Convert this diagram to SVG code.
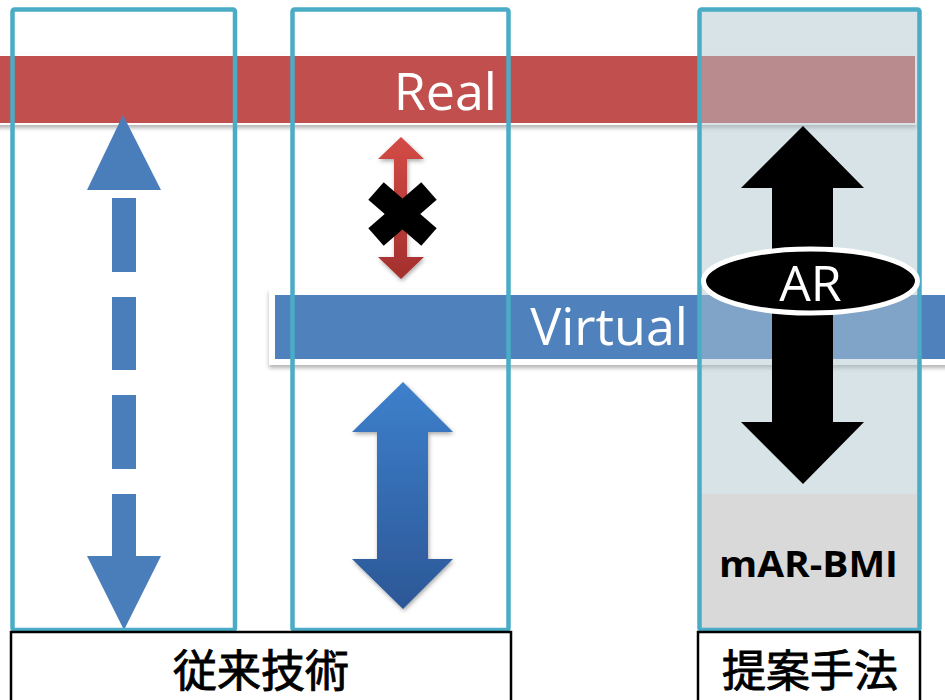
<svg xmlns="http://www.w3.org/2000/svg" width="945" height="700" viewBox="0 0 945 700">
  <defs>
    <style>
      .band-text { font-family: "Open Sans", "Liberation Sans", sans-serif; fill: #ffffff; font-size: 52px; }
      .frame { fill: none; stroke: #4bacc6; stroke-width: 4.5; }
      .label-box { fill: #ffffff; stroke: #000000; stroke-width: 2.5; }
      .label-text { font-family: "Noto Sans CJK JP", "Noto Sans CJK SC", sans-serif; font-size: 44px; font-weight: normal; fill: #000000; stroke: #000000; stroke-width: 0.9; text-anchor: middle; }
      .dash-arrow { fill: #4a7ebb; }
    </style>
    <filter id="bandShadow" x="-5%" y="-30%" width="110%" height="170%">
      <feDropShadow dx="0" dy="3" stdDeviation="2" flood-color="#000000" flood-opacity="0.3"/>
    </filter>
    <filter id="arrowShadow" x="-30%" y="-10%" width="160%" height="130%">
      <feDropShadow dx="1" dy="2" stdDeviation="2" flood-color="#000000" flood-opacity="0.35"/>
    </filter>
    <linearGradient id="redGrad" x1="0" y1="0" x2="0" y2="1">
      <stop offset="0" stop-color="#d34b46"/>
      <stop offset="1" stop-color="#a3302d"/>
    </linearGradient>
    <linearGradient id="blueGrad" x1="0" y1="0" x2="0" y2="1">
      <stop offset="0" stop-color="#3d80cc"/>
      <stop offset="1" stop-color="#2c5796"/>
    </linearGradient>
  </defs>

  <rect x="0" y="0" width="945" height="700" fill="#ffffff"/>

  <!-- Real layer band -->
  <g id="real-band">
    <rect x="-10" y="55" width="926" height="69" fill="#c0504d" stroke="#ffffff" stroke-width="2" filter="url(#bandShadow)"/>
  </g>

  <!-- Virtual layer band -->
  <g id="virtual-band">
    <rect x="272" y="292" width="690" height="70" fill="#4f81bd" stroke="#ffffff" stroke-width="6" filter="url(#bandShadow)"/>
  </g>

  <!-- Proposed-method column tint -->
  <g id="proposed-column">
    <rect x="700" y="10" width="220" height="620" fill="#b1c7d1" fill-opacity="0.5"/>
    <rect x="701" y="494" width="216" height="136" fill="#d9d9d9"/>
  </g>

  <!-- arrows -->
  <g id="connectors">
    <!-- dashed two-way link (conventional, left) -->
    <g id="dashed-arrow" class="dash-arrow">
      <polygon points="123,115 161,190 87,190"/>
      <rect x="112" y="198" width="24" height="74"/>
      <rect x="112" y="297" width="24" height="73"/>
      <rect x="112" y="395" width="24" height="74"/>
      <path d="M112,494 H136 V556 H161 L124,630 L87,556 H112 Z"/>
    </g>
    <!-- blocked link between real and virtual -->
    <path id="red-arrow" d="M401,137 L424,159 H407 V257 H424 L401,279 L378,257 H394 V159 H378 Z" fill="url(#redGrad)" filter="url(#arrowShadow)"/>
    <!-- virtual-side link -->
    <path id="blue-arrow" d="M403,382 L453,432 H428 V559 H453 L403,609 L352,559 H377 V432 H352 Z" fill="url(#blueGrad)" filter="url(#arrowShadow)"/>
    <!-- AR link (proposed) -->
    <path id="black-arrow" d="M803,126 L864,188 H833 V422 H864 L803,484 L741,422 H772 V188 H741 Z" fill="#000000"/>
  </g>

  <!-- cross mark -->
  <g id="cross-mark" stroke="#000000" stroke-width="23.5">
    <line x1="376" y1="191" x2="429" y2="237"/>
    <line x1="429" y1="191" x2="376" y2="237"/>
  </g>

  <!-- column frames -->
  <g id="frame-conventional-1">
    <rect class="frame" x="12.5" y="9.5" width="222.5" height="620.5" rx="2"/>
  </g>
  <g id="frame-conventional-2">
    <rect class="frame" x="292.5" y="9.5" width="216" height="620.5" rx="2"/>
  </g>
  <g id="frame-proposed">
    <rect class="frame" x="699.5" y="9.5" width="220" height="620.5" rx="2"/>
  </g>

  <!-- AR badge -->
  <g id="ar-badge">
    <ellipse cx="810.5" cy="281" rx="107" ry="32" fill="#000000" stroke="#ffffff" stroke-width="5"/>
    <text x="810.5" y="301" class="band-text" text-anchor="middle" style="font-size:50px">AR</text>
  </g>

  <!-- band labels -->
  <g id="real-label">
    <text x="497" y="110" class="band-text" text-anchor="end">Real</text>
  </g>
  <g id="virtual-label">
    <text x="688" y="345" class="band-text" text-anchor="end">Virtual</text>
  </g>

  <!-- system name -->
  <g id="mar-bmi">
    <text x="808.5" y="577" font-family="Open Sans, Liberation Sans, sans-serif" font-weight="bold" font-size="36" text-anchor="middle" fill="#000000" textLength="179" lengthAdjust="spacingAndGlyphs">mAR-BMI</text>
  </g>

  <!-- column captions -->
  <g id="caption-conventional">
    <rect class="label-box" x="11" y="632" width="500" height="80"/>
    <text class="label-text" x="261" y="687">従来技術</text>
  </g>
  <g id="caption-proposed">
    <rect class="label-box" x="698" y="632" width="222" height="80"/>
    <text class="label-text" x="810" y="687">提案手法</text>
  </g>
</svg>
